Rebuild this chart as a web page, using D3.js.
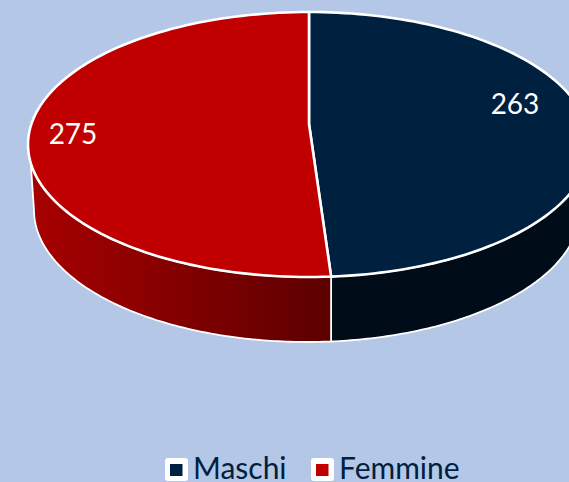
<!DOCTYPE html>
<html><head><meta charset="utf-8">
<style>html,body{margin:0;padding:0;background:#b4c7e7;overflow:hidden}svg{display:block}</style>
<script src="https://cdn.jsdelivr.net/npm/d3@7"></script></head>
<body><svg id="c" width="569" height="482"></svg>
<script>
const categories = ["Maschi", "Femmine"];
const values = [263, 275];
const colors = ["#002040", "#c00000"];
const wallColors = [["#000c18", "#000c18"], ["#5c0000", "#a80000"]];

const svg = d3.select("#c");
const W = 569, H = 482;
svg.append("rect").attr("width", W).attr("height", H).attr("fill", "#b4c7e7");

const pie = d3.pie().sort(null).value(d => d);
const arcs = pie(values);

// unit-circle → pixel projections of top face and lower rim
const topFace = {x: d3.scaleLinear([-1, 1], [28, 590]), y: d3.scaleLinear([-1, 1], [12, 277])};
const lowRim = {x: d3.scaleLinear([-1, 1], [34, 580]), y: d3.scaleLinear([-1, 1], [78, 342])};
const apex = [topFace.x(0), 124];
const pt = (p, a) => [p.x(Math.sin(a)), p.y(-Math.cos(a))];
const rim = (p, a0, a1) => d3.range(0, 121).map(i => pt(p, a0 + (a1 - a0) * i / 120));
const line = d3.line();
const deg = Math.PI / 180;
const wallEnd = 262 * deg;

// small perspective corrections to where the slice boundary lands on each rim
const split = arcs[0].endAngle;
const splitTop = split - 0.5 * deg;
const splitLow = split - 1.05 * deg;

const defs = svg.append("defs");
const grad = defs.append("linearGradient").attr("id", "wallRed").attr("gradientUnits", "userSpaceOnUse")
  .attr("x1", pt(topFace, splitTop)[0]).attr("x2", 30).attr("y1", 0).attr("y2", 0);
grad.append("stop").attr("offset", 0).attr("stop-color", wallColors[1][0]);
grad.append("stop").attr("offset", 1).attr("stop-color", wallColors[1][1]);

// walls
const wallStyle = s => s.attr("stroke", "#fff").attr("stroke-width", 1.8).attr("stroke-linejoin", "round");
svg.append("path")
  .attr("d", line([...rim(topFace, 90 * deg - 0.3, splitTop), ...rim(lowRim, splitLow, 90 * deg - 0.3)]) + "Z")
  .attr("fill", wallColors[0][0]).call(wallStyle);
svg.append("path")
  .attr("d", line([...rim(topFace, splitTop, wallEnd), ...rim(lowRim, wallEnd + 0.14, splitLow)]) + "Z")
  .attr("fill", "url(#wallRed)").call(wallStyle);

// top face
const sliceRange = [[0, splitTop], [splitTop, 2 * Math.PI]];
svg.selectAll("path.slice").data(arcs).join("path").attr("class", "slice")
  .attr("d", (d, i) => line([apex, ...rim(topFace, sliceRange[i][0], sliceRange[i][1])]) + "Z")
  .attr("fill", (d, i) => colors[i]).attr("stroke", "#fff").attr("stroke-width", 2.6).attr("stroke-linejoin", "round");

// value labels
const labelPos = [[515, 103], [73, 133]];
svg.selectAll("text.val").data(values).join("text").attr("class", "val")
  .attr("x", (d, i) => labelPos[i][0]).attr("y", (d, i) => labelPos[i][1])
  .attr("text-anchor", "middle").attr("dominant-baseline", "central")
  .attr("font-family", "Lato").attr("font-size", 28).attr("fill", "#fff").text(d => d);

// legend
const legendX = [165, 311];
const g = svg.selectAll("g.leg").data(categories).join("g").attr("class", "leg")
  .attr("transform", (d, i) => `translate(${legendX[i]},458)`);
g.append("rect").attr("width", 23).attr("height", 23).attr("rx", 3).attr("fill", "#fff");
g.append("rect").attr("x", 5).attr("y", 6).attr("width", 12.5).attr("height", 12).attr("fill", (d, i) => colors[i]);
g.append("text").attr("x", 28).attr("y", 21).attr("font-family", "Lato").attr("font-size", 30)
  .attr("fill", "#002040").text(d => d);
</script></body></html>
